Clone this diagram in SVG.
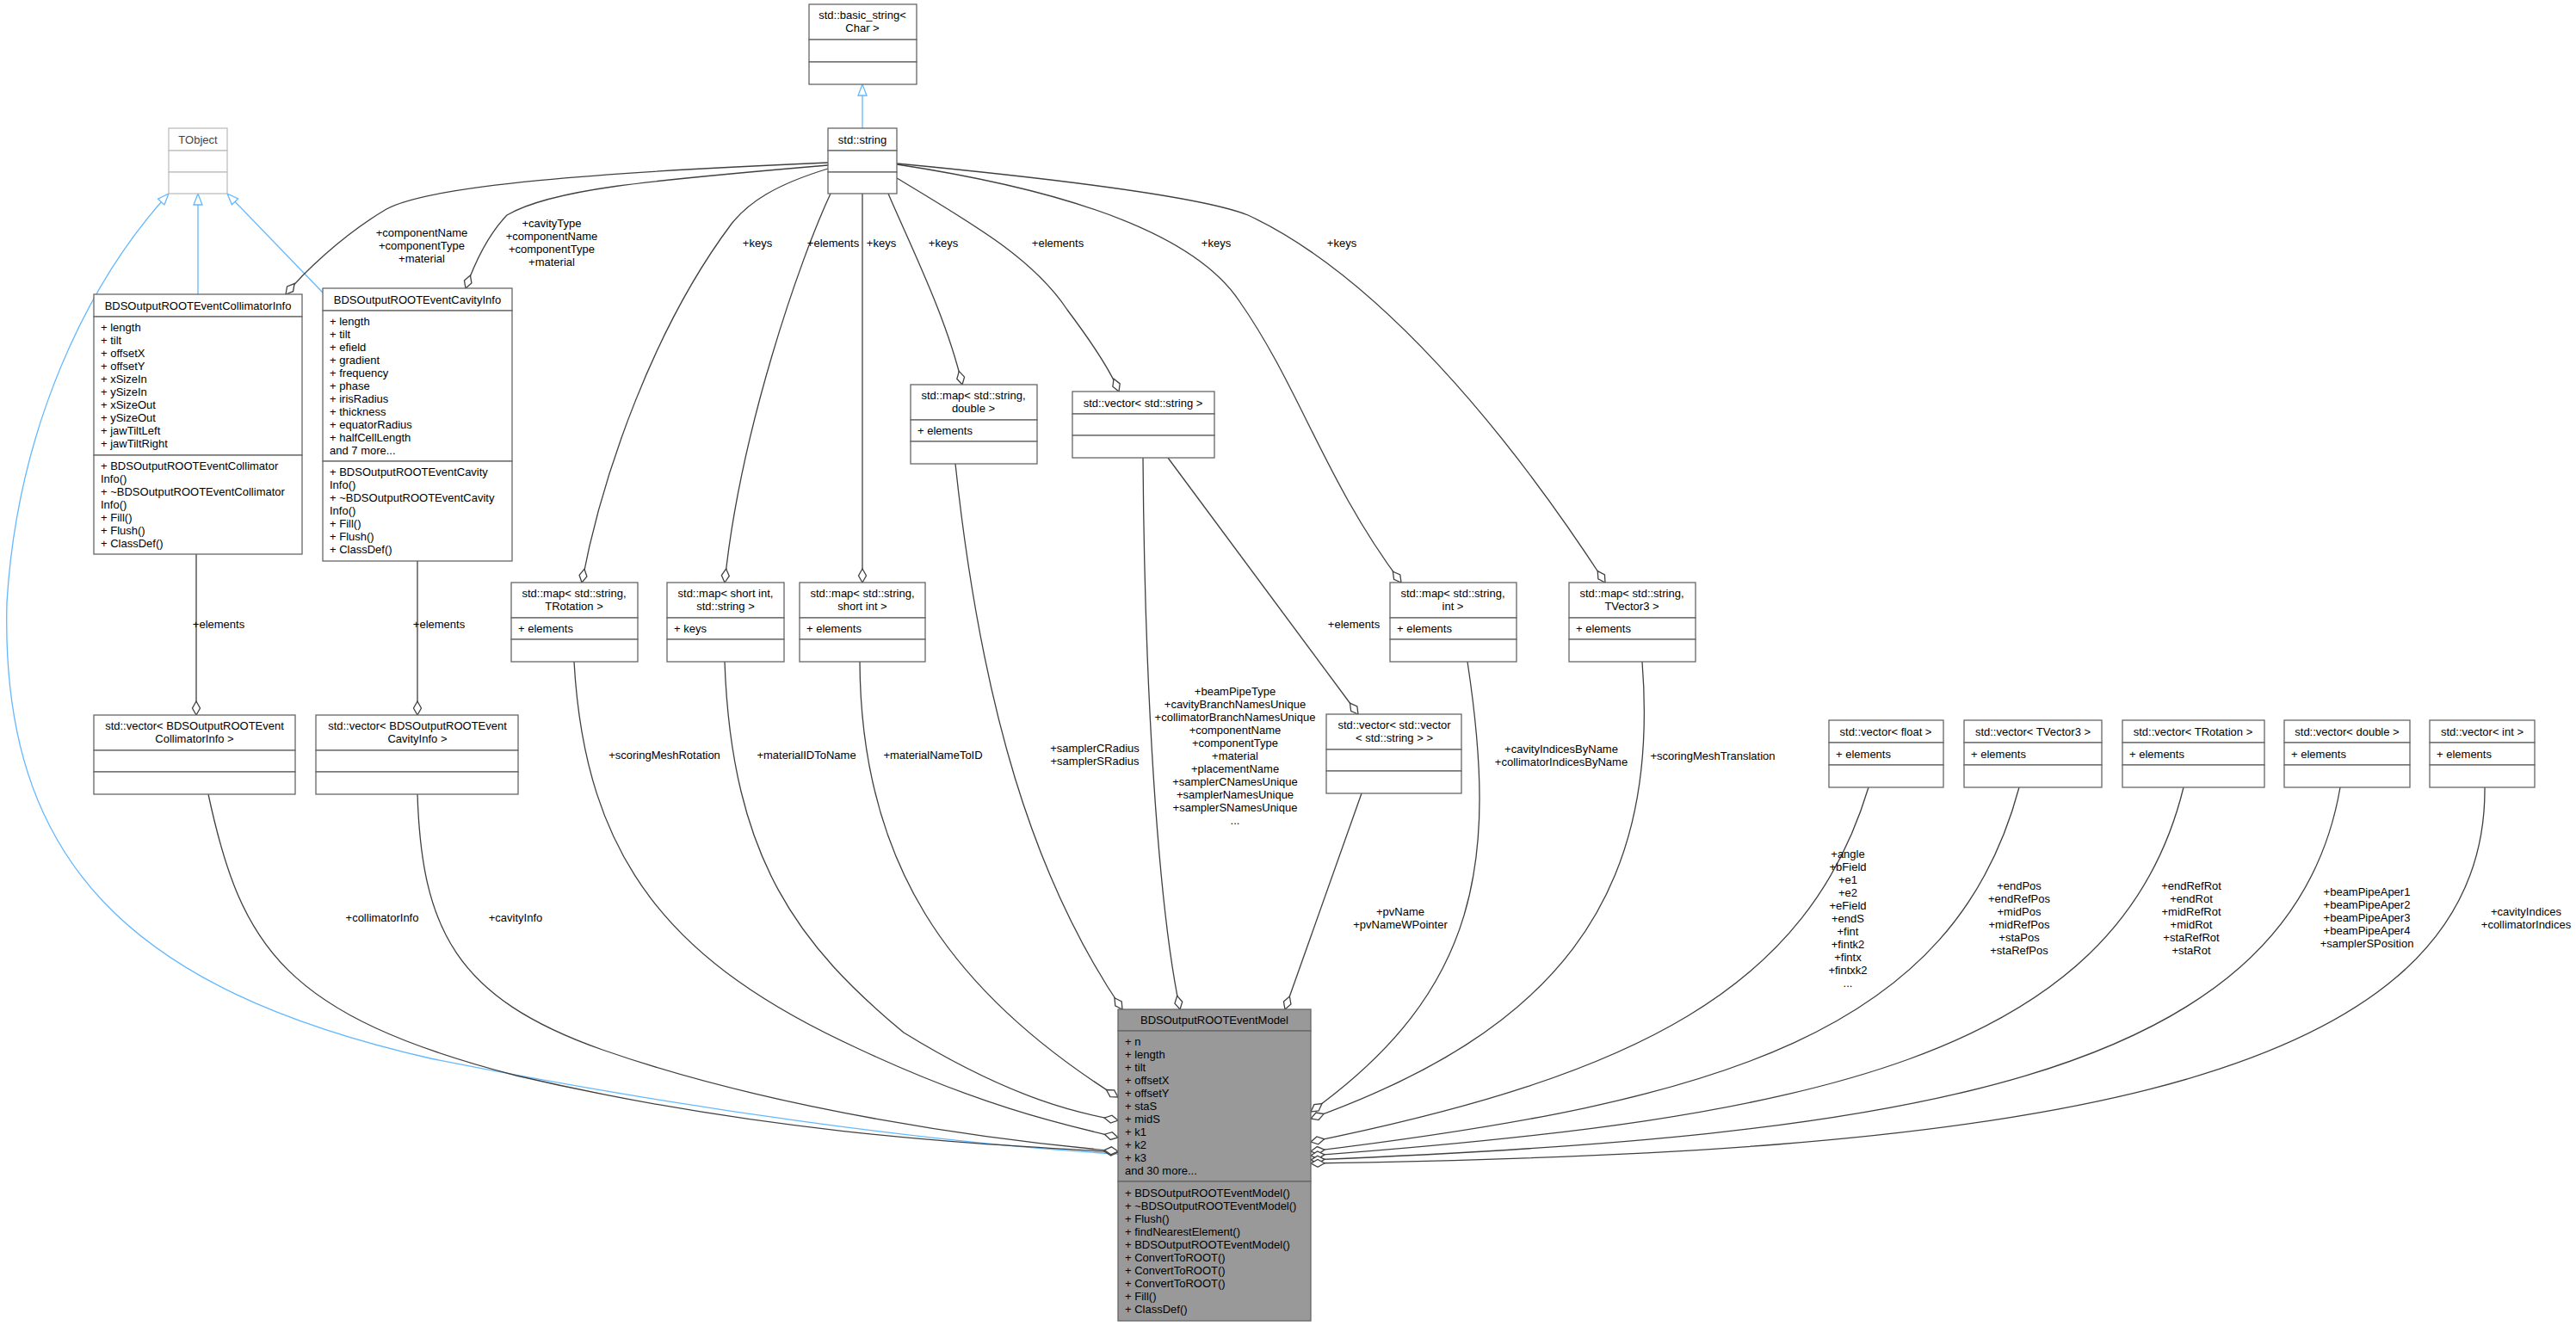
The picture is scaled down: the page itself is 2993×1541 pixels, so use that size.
<svg xmlns="http://www.w3.org/2000/svg" width="2993" height="1541" viewBox="0 0 2993 1541">
<style>
text{font-family:"Liberation Sans",Arial,sans-serif;font-size:13px;fill:#000}
.c{text-anchor:middle}
.b rect{fill:#fff;stroke:#666;stroke-width:1.3}
.g rect{fill:#fff;stroke:#bfbfbf;stroke-width:1.3}
.g text{fill:#444}
.m rect{fill:#999;stroke:#666;stroke-width:1.3}
.e path{fill:none;stroke:#404040;stroke-width:1.3;marker-end:url(#dia)}
.i path{fill:none;stroke:#63b8ff;stroke-width:1.3;marker-end:url(#tri)}
</style>
<defs>
<marker id="dia" markerUnits="userSpaceOnUse" markerWidth="20" markerHeight="12" viewBox="-17 -6 18 12" refX="0" refY="0" orient="auto"><polygon points="0,0 -8,-4.5 -16,0 -8,4.5" fill="#fff" stroke="#404040" stroke-width="1.3"/></marker>
<marker id="tri" markerUnits="userSpaceOnUse" markerWidth="16" markerHeight="12" viewBox="-15 -6 16 12" refX="0" refY="0" orient="auto"><polygon points="0,0 -13,-5 -13,5" fill="#fff" stroke="#63b8ff" stroke-width="1.3"/></marker>
</defs>
<rect width="2993" height="1541" fill="#fff"/>

<g id="connectors">
<g class="i">
<path d="M1002,149 L1002,98"/>
<path d="M230,342 L230,225"/>
<path d="M375,340 L264,225"/>
<path d="M1299,1341 C1100,1330 800,1290 500,1230 C150,1150 0,1000 8,700 C20,500 100,330 196,225"/>
</g>
<g class="e">
<path d="M962,189 C700,200 500,215 449,243 C395,275 350,320 332,342"/>
<path d="M962,192 C750,210 640,220 589,250 C565,275 550,310 541,335"/>
<path d="M962,196 C900,215 870,235 850,260 C760,380 700,550 676,677"/>
<path d="M965,225 C930,300 860,500 842,677"/>
<path d="M1002,225 L1002,677"/>
<path d="M1032,225 C1060,290 1100,370 1118,447"/>
<path d="M1042,207 C1130,260 1200,300 1240,360 C1270,400 1290,430 1300,455"/>
<path d="M1042,191 C1200,215 1380,260 1440,350 C1510,450 1540,560 1628,677"/>
<path d="M1042,190 C1250,210 1400,230 1450,250 C1600,320 1750,500 1865,677"/>
<path d="M1357,532 L1578,830"/>
<path d="M228,644 L228,831"/>
<path d="M485,652 L485,831"/>
<path d="M1110,539 C1140,820 1200,1020 1304,1173"/>
<path d="M1328,532 C1330,800 1345,1050 1371,1173"/>
<path d="M1582,922 L1493,1173"/>
<path d="M242,923 C280,1100 330,1180 600,1250 C900,1320 1150,1330 1299,1339"/>
<path d="M485,923 C490,1080 530,1160 700,1220 C900,1290 1150,1325 1299,1338"/>
<path d="M667,769 C680,1000 780,1120 1000,1220 C1150,1290 1250,1310 1299,1322"/>
<path d="M842,769 C850,1000 930,1100 1050,1200 C1180,1280 1260,1295 1299,1302"/>
<path d="M999,769 C1000,1000 1100,1150 1299,1275"/>
<path d="M1705,769 C1740,1000 1720,1150 1523,1292"/>
<path d="M1908,769 C1930,1050 1800,1200 1523,1300"/>
<path d="M2171,915 C2100,1150 1900,1250 1523,1327"/>
<path d="M2346,915 C2270,1200 2000,1280 1523,1338"/>
<path d="M2537,915 C2460,1230 2100,1300 1523,1343"/>
<path d="M2719,915 C2660,1260 2200,1320 1523,1348"/>
<path d="M2887,915 C2890,1280 2300,1340 1523,1352"/>
</g>
<g id="labels" class="c">
<text x="490" y="275">+componentName</text><text x="490" y="290">+componentType</text><text x="490" y="305">+material</text>
<text x="641" y="264">+cavityType</text><text x="641" y="279">+componentName</text><text x="641" y="294">+componentType</text><text x="641" y="309">+material</text>
<text x="880" y="287">+keys</text>
<text x="968" y="287">+elements</text>
<text x="1024" y="287">+keys</text>
<text x="1096" y="287">+keys</text>
<text x="1229" y="287">+elements</text>
<text x="1413" y="287">+keys</text>
<text x="1559" y="287">+keys</text>
<text x="1573" y="730">+elements</text>
<text x="254" y="730">+elements</text>
<text x="510" y="730">+elements</text>
<text x="772" y="882">+scoringMeshRotation</text>
<text x="937" y="882">+materialIDToName</text>
<text x="1084" y="882">+materialNameToID</text>
<text x="1272" y="874">+samplerCRadius</text><text x="1272" y="889">+samplerSRadius</text>
<text x="1435" y="808">+beamPipeType</text><text x="1435" y="823">+cavityBranchNamesUnique</text><text x="1435" y="838">+collimatorBranchNamesUnique</text><text x="1435" y="853">+componentName</text><text x="1435" y="868">+componentType</text><text x="1435" y="883">+material</text><text x="1435" y="898">+placementName</text><text x="1435" y="913">+samplerCNamesUnique</text><text x="1435" y="928">+samplerNamesUnique</text><text x="1435" y="943">+samplerSNamesUnique</text><text x="1435" y="958">...</text>
<text x="1627" y="1064">+pvName</text><text x="1627" y="1079">+pvNameWPointer</text>
<text x="444" y="1071">+collimatorInfo</text>
<text x="599" y="1071">+cavityInfo</text>
<text x="1814" y="875">+cavityIndicesByName</text><text x="1814" y="890">+collimatorIndicesByName</text>
<text x="1990" y="883">+scoringMeshTranslation</text>
<text x="2147" y="997">+angle</text><text x="2147" y="1012">+bField</text><text x="2147" y="1027">+e1</text><text x="2147" y="1042">+e2</text><text x="2147" y="1057">+eField</text><text x="2147" y="1072">+endS</text><text x="2147" y="1087">+fint</text><text x="2147" y="1102">+fintk2</text><text x="2147" y="1117">+fintx</text><text x="2147" y="1132">+fintxk2</text><text x="2147" y="1147">...</text>
<text x="2346" y="1034">+endPos</text><text x="2346" y="1049">+endRefPos</text><text x="2346" y="1064">+midPos</text><text x="2346" y="1079">+midRefPos</text><text x="2346" y="1094">+staPos</text><text x="2346" y="1109">+staRefPos</text>
<text x="2546" y="1034">+endRefRot</text><text x="2546" y="1049">+endRot</text><text x="2546" y="1064">+midRefRot</text><text x="2546" y="1079">+midRot</text><text x="2546" y="1094">+staRefRot</text><text x="2546" y="1109">+staRot</text>
<text x="2750" y="1041">+beamPipeAper1</text><text x="2750" y="1056">+beamPipeAper2</text><text x="2750" y="1071">+beamPipeAper3</text><text x="2750" y="1086">+beamPipeAper4</text><text x="2750" y="1101">+samplerSPosition</text>
<text x="2935" y="1064">+cavityIndices</text><text x="2935" y="1079">+collimatorIndices</text>
</g>
</g>

<g id="TObject" class="g"><rect x="196" y="149" width="68" height="26"/><rect x="196" y="175" width="68" height="25"/><rect x="196" y="200" width="68" height="25"/><text class="c" x="230" y="167">TObject</text></g>
<g id="basic_string" class="b"><rect x="940" y="5" width="125" height="41"/><rect x="940" y="46" width="125" height="26"/><rect x="940" y="72" width="125" height="26"/><text class="c" x="1002" y="22">std::basic_string&lt;</text><text class="c" x="1002" y="37">Char &gt;</text></g>
<g id="string" class="b"><rect x="962" y="149" width="80" height="26"/><rect x="962" y="175" width="80" height="25"/><rect x="962" y="200" width="80" height="25"/><text class="c" x="1002" y="167">std::string</text></g>

<g id="CollimatorInfo" class="b"><rect x="109" y="342" width="242" height="26"/><rect x="109" y="368" width="242" height="161"/><rect x="109" y="529" width="242" height="115"/>
<text class="c" x="230" y="360">BDSOutputROOTEventCollimatorInfo</text>
<text x="117" y="385">+ length</text><text x="117" y="400">+ tilt</text><text x="117" y="415">+ offsetX</text><text x="117" y="430">+ offsetY</text><text x="117" y="445">+ xSizeIn</text><text x="117" y="460">+ ySizeIn</text><text x="117" y="475">+ xSizeOut</text><text x="117" y="490">+ ySizeOut</text><text x="117" y="505">+ jawTiltLeft</text><text x="117" y="520">+ jawTiltRight</text>
<text x="117" y="546">+ BDSOutputROOTEventCollimator</text><text x="117" y="561">Info()</text><text x="117" y="576">+ ~BDSOutputROOTEventCollimator</text><text x="117" y="591">Info()</text><text x="117" y="606">+ Fill()</text><text x="117" y="621">+ Flush()</text><text x="117" y="636">+ ClassDef()</text></g>

<g id="CavityInfo" class="b"><rect x="375" y="335" width="220" height="26"/><rect x="375" y="361" width="220" height="175"/><rect x="375" y="536" width="220" height="116"/>
<text class="c" x="485" y="353">BDSOutputROOTEventCavityInfo</text>
<text x="383" y="378">+ length</text><text x="383" y="393">+ tilt</text><text x="383" y="408">+ efield</text><text x="383" y="423">+ gradient</text><text x="383" y="438">+ frequency</text><text x="383" y="453">+ phase</text><text x="383" y="468">+ irisRadius</text><text x="383" y="483">+ thickness</text><text x="383" y="498">+ equatorRadius</text><text x="383" y="513">+ halfCellLength</text><text x="383" y="528">and 7 more...</text>
<text x="383" y="553">+ BDSOutputROOTEventCavity</text><text x="383" y="568">Info()</text><text x="383" y="583">+ ~BDSOutputROOTEventCavity</text><text x="383" y="598">Info()</text><text x="383" y="613">+ Fill()</text><text x="383" y="628">+ Flush()</text><text x="383" y="643">+ ClassDef()</text></g>

<g id="map_string_double" class="b"><rect x="1058" y="447" width="147" height="41"/><rect x="1058" y="488" width="147" height="25"/><rect x="1058" y="513" width="147" height="26"/><text class="c" x="1131" y="464">std::map&lt; std::string,</text><text class="c" x="1131" y="479">double &gt;</text><text x="1066" y="505">+ elements</text></g>
<g id="vector_string" class="b"><rect x="1246" y="455" width="165" height="26"/><rect x="1246" y="481" width="165" height="25"/><rect x="1246" y="506" width="165" height="26"/><text class="c" x="1328" y="473">std::vector&lt; std::string &gt;</text></g>
<g id="map_string_int" class="b"><rect x="1615" y="677" width="147" height="41"/><rect x="1615" y="718" width="147" height="25"/><rect x="1615" y="743" width="147" height="26"/><text class="c" x="1688" y="694">std::map&lt; std::string,</text><text class="c" x="1688" y="709">int &gt;</text><text x="1623" y="735">+ elements</text></g>
<g id="map_string_TVector3" class="b"><rect x="1823" y="677" width="147" height="41"/><rect x="1823" y="718" width="147" height="25"/><rect x="1823" y="743" width="147" height="26"/><text class="c" x="1896" y="694">std::map&lt; std::string,</text><text class="c" x="1896" y="709">TVector3 &gt;</text><text x="1831" y="735">+ elements</text></g>
<g id="map_string_TRotation" class="b"><rect x="594" y="677" width="147" height="41"/><rect x="594" y="718" width="147" height="25"/><rect x="594" y="743" width="147" height="26"/><text class="c" x="667" y="694">std::map&lt; std::string,</text><text class="c" x="667" y="709">TRotation &gt;</text><text x="602" y="735">+ elements</text></g>
<g id="map_short_string" class="b"><rect x="775" y="677" width="136" height="41"/><rect x="775" y="718" width="136" height="25"/><rect x="775" y="743" width="136" height="26"/><text class="c" x="843" y="694">std::map&lt; short int,</text><text class="c" x="843" y="709">std::string &gt;</text><text x="783" y="735">+ keys</text></g>
<g id="map_string_short" class="b"><rect x="929" y="677" width="146" height="41"/><rect x="929" y="718" width="146" height="25"/><rect x="929" y="743" width="146" height="26"/><text class="c" x="1002" y="694">std::map&lt; std::string,</text><text class="c" x="1002" y="709">short int &gt;</text><text x="937" y="735">+ elements</text></g>
<g id="vector_Collimator" class="b"><rect x="109" y="831" width="234" height="41"/><rect x="109" y="872" width="234" height="25"/><rect x="109" y="897" width="234" height="26"/><text class="c" x="226" y="848">std::vector&lt; BDSOutputROOTEvent</text><text class="c" x="226" y="863">CollimatorInfo &gt;</text></g>
<g id="vector_Cavity" class="b"><rect x="367" y="831" width="235" height="41"/><rect x="367" y="872" width="235" height="25"/><rect x="367" y="897" width="235" height="26"/><text class="c" x="485" y="848">std::vector&lt; BDSOutputROOTEvent</text><text class="c" x="485" y="863">CavityInfo &gt;</text></g>
<g id="vector_vector_string" class="b"><rect x="1541" y="830" width="157" height="41"/><rect x="1541" y="871" width="157" height="25"/><rect x="1541" y="896" width="157" height="26"/><text class="c" x="1620" y="847">std::vector&lt; std::vector</text><text class="c" x="1620" y="862">&lt; std::string &gt; &gt;</text></g>
<g id="vector_float" class="b"><rect x="2125" y="837" width="133" height="26"/><rect x="2125" y="863" width="133" height="26"/><rect x="2125" y="889" width="133" height="26"/><text class="c" x="2191" y="855">std::vector&lt; float &gt;</text><text x="2133" y="881">+ elements</text></g>
<g id="vector_TVector3" class="b"><rect x="2282" y="837" width="160" height="26"/><rect x="2282" y="863" width="160" height="26"/><rect x="2282" y="889" width="160" height="26"/><text class="c" x="2362" y="855">std::vector&lt; TVector3 &gt;</text><text x="2290" y="881">+ elements</text></g>
<g id="vector_TRotation" class="b"><rect x="2466" y="837" width="165" height="26"/><rect x="2466" y="863" width="165" height="26"/><rect x="2466" y="889" width="165" height="26"/><text class="c" x="2548" y="855">std::vector&lt; TRotation &gt;</text><text x="2474" y="881">+ elements</text></g>
<g id="vector_double" class="b"><rect x="2654" y="837" width="146" height="26"/><rect x="2654" y="863" width="146" height="26"/><rect x="2654" y="889" width="146" height="26"/><text class="c" x="2727" y="855">std::vector&lt; double &gt;</text><text x="2662" y="881">+ elements</text></g>
<g id="vector_int" class="b"><rect x="2823" y="837" width="122" height="26"/><rect x="2823" y="863" width="122" height="26"/><rect x="2823" y="889" width="122" height="26"/><text class="c" x="2884" y="855">std::vector&lt; int &gt;</text><text x="2831" y="881">+ elements</text></g>

<g id="BDSOutputROOTEventModel" class="m"><rect x="1299" y="1173" width="224" height="25"/><rect x="1299" y="1198" width="224" height="175"/><rect x="1299" y="1373" width="224" height="162"/>
<text class="c" x="1411" y="1190">BDSOutputROOTEventModel</text>
<text x="1307" y="1215">+ n</text><text x="1307" y="1230">+ length</text><text x="1307" y="1245">+ tilt</text><text x="1307" y="1260">+ offsetX</text><text x="1307" y="1275">+ offsetY</text><text x="1307" y="1290">+ staS</text><text x="1307" y="1305">+ midS</text><text x="1307" y="1320">+ k1</text><text x="1307" y="1335">+ k2</text><text x="1307" y="1350">+ k3</text><text x="1307" y="1365">and 30 more...</text>
<text x="1307" y="1391">+ BDSOutputROOTEventModel()</text><text x="1307" y="1406">+ ~BDSOutputROOTEventModel()</text><text x="1307" y="1421">+ Flush()</text><text x="1307" y="1436">+ findNearestElement()</text><text x="1307" y="1451">+ BDSOutputROOTEventModel()</text><text x="1307" y="1466">+ ConvertToROOT()</text><text x="1307" y="1481">+ ConvertToROOT()</text><text x="1307" y="1496">+ ConvertToROOT()</text><text x="1307" y="1511">+ Fill()</text><text x="1307" y="1526">+ ClassDef()</text></g>
</svg>
